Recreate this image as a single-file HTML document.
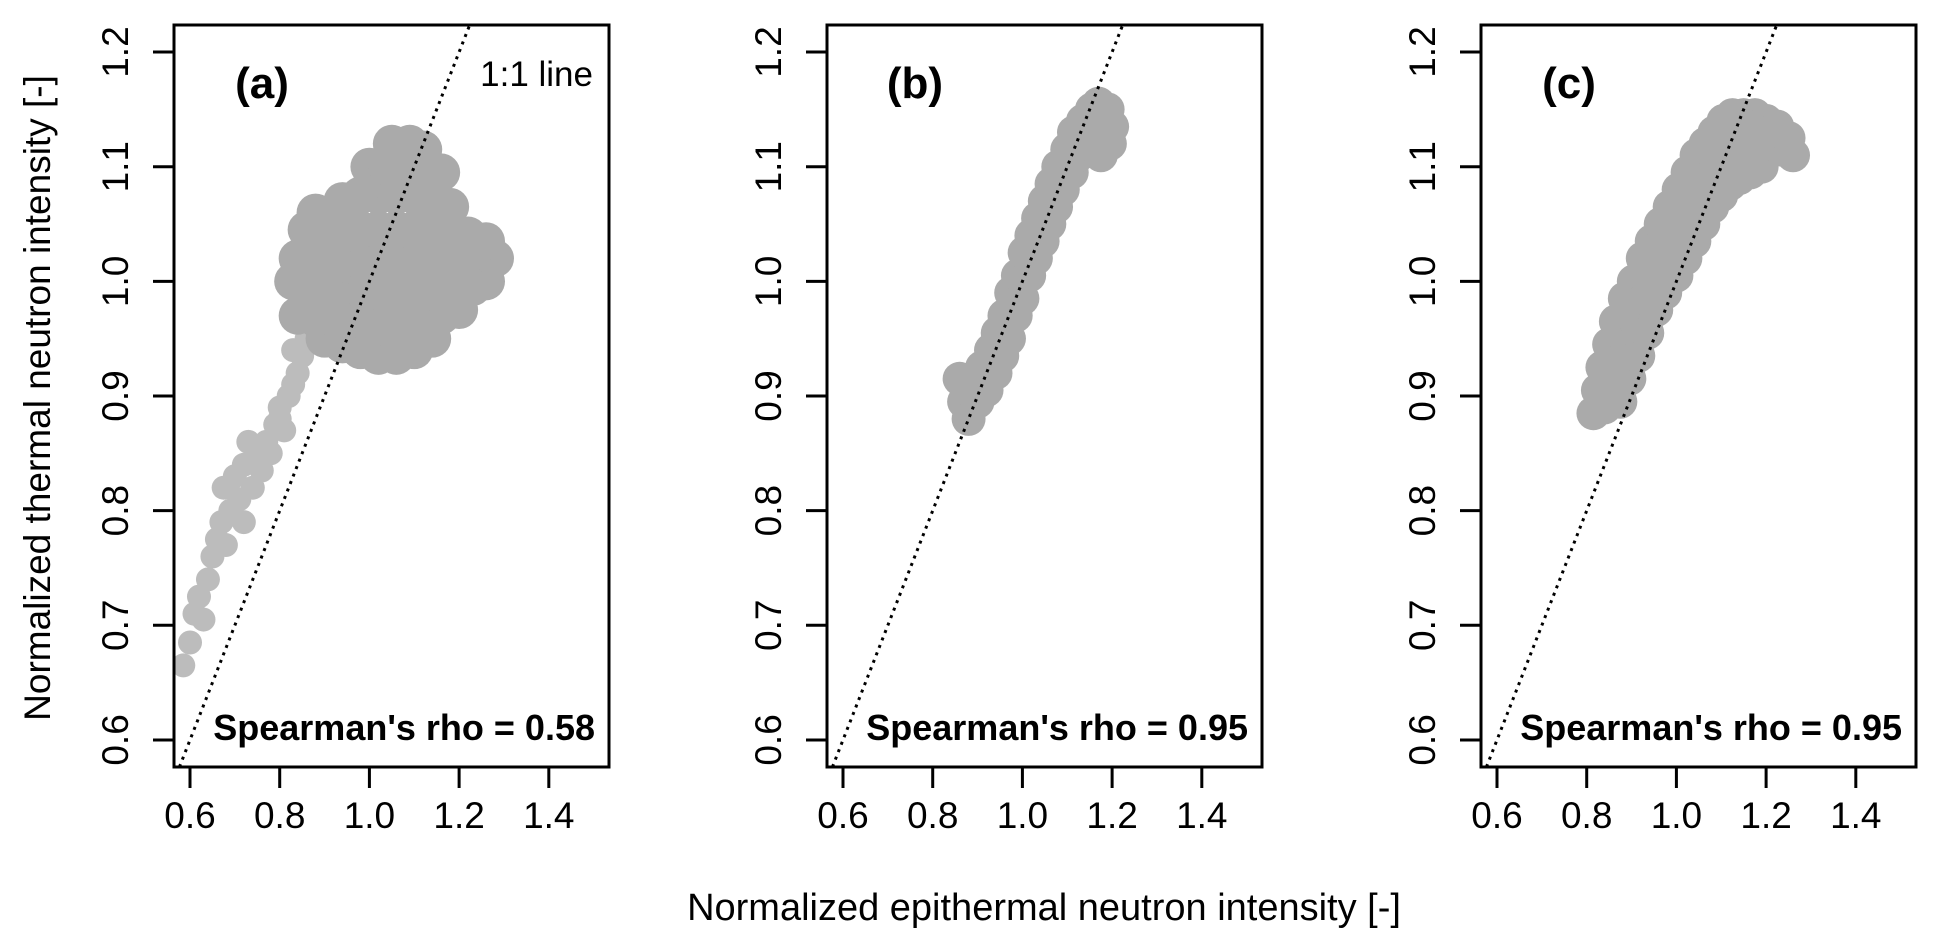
<!DOCTYPE html>
<html><head><meta charset="utf-8"><style>
body{margin:0;background:#fff}
svg{display:block;font-family:"Liberation Sans",Arial,sans-serif}
</style></head><body>
<svg id="chart" width="1936" height="951" viewBox="0 0 1936 951">
<text x="40" y="398" transform="rotate(-90 40 398)" text-anchor="middle" dominant-baseline="middle" font-size="37">Normalized thermal neutron intensity [-]</text>
<text x="1044" y="920" text-anchor="middle" font-size="38">Normalized epithermal neutron intensity [-]</text>
</svg>
<script>
const xTicks=[0.6,0.8,1.0,1.2,1.4];
const yTicks=[0.6,0.7,0.8,0.9,1.0,1.1,1.2];
const panelLabels=["(a)","(b)","(c)"];
const rhoValues=["0.58","0.95","0.95"];
const tailA=[
[0.585,0.665],[0.60,0.685],[0.61,0.71],[0.62,0.725],[0.63,0.705],[0.64,0.74],[0.65,0.76],[0.66,0.775],[0.67,0.79],[0.675,0.82],[0.69,0.80],[0.70,0.83],[0.71,0.81],[0.72,0.79],[0.72,0.84],[0.74,0.82],[0.75,0.85],[0.76,0.835],[0.77,0.86],[0.78,0.85],[0.79,0.875],[0.80,0.89],[0.81,0.87],[0.82,0.90],[0.83,0.91],[0.84,0.92],[0.85,0.935],[0.86,0.95],[0.80,0.88],[0.83,0.94],[0.73,0.86],[0.68,0.77]
];
const pointsA=[
[0.84,0.97],[0.83,1.00],[0.84,1.02],[0.86,1.045],[0.88,1.06],
[0.90,0.95],[0.94,0.945],[0.98,0.94],[1.02,0.935],[1.06,0.935],[1.10,0.94],[1.14,0.95],
[0.88,0.968],[0.92,0.968],[0.96,0.965],[1.00,0.962],[1.04,0.96],[1.08,0.962],[1.12,0.965],[1.16,0.97],[1.20,0.975],
[0.87,0.99],[0.91,0.99],[0.95,0.99],[0.99,0.99],[1.03,0.99],[1.07,0.99],[1.11,0.99],[1.15,0.99],[1.19,0.99],[1.23,0.995],[1.26,1.00],
[0.87,1.015],[0.91,1.015],[0.95,1.015],[0.99,1.015],[1.03,1.015],[1.07,1.015],[1.11,1.015],[1.15,1.015],[1.19,1.015],[1.23,1.015],[1.28,1.02],
[0.90,1.045],[0.94,1.045],[0.98,1.045],[1.02,1.045],[1.06,1.045],[1.10,1.045],[1.14,1.045],[1.18,1.045],[1.22,1.04],[1.26,1.035],
[0.94,1.07],[0.98,1.075],[1.02,1.075],[1.06,1.075],[1.10,1.075],[1.14,1.07],[1.18,1.065],
[1.00,1.10],[1.04,1.10],[1.08,1.105],[1.12,1.10],[1.16,1.095],
[1.05,1.12],[1.09,1.12],[1.12,1.115]
];
const pointsB=[
[0.86,0.915],[0.87,0.895],[0.88,0.88],[0.89,0.91],[0.90,0.895],[0.91,0.925],[0.92,0.905],[0.93,0.94],[0.94,0.92],[0.945,0.955],[0.955,0.935],[0.96,0.97],[0.97,0.95],[0.975,0.99],[0.985,0.97],[0.99,1.005],[1.00,0.985],[1.005,1.025],[1.015,1.005],[1.02,1.04],[1.03,1.02],[1.035,1.055],[1.045,1.035],[1.05,1.07],[1.06,1.05],[1.065,1.085],[1.075,1.065],[1.08,1.10],[1.09,1.08],[1.10,1.115],[1.11,1.095],[1.115,1.13],[1.125,1.11],[1.135,1.14],[1.145,1.12],[1.155,1.15],[1.16,1.13],[1.17,1.155],[1.175,1.11],[1.18,1.135],[1.19,1.15],[1.195,1.12],[1.20,1.135]
];
const pointsC=[
[0.815,0.885],[0.825,0.905],[0.835,0.925],[0.84,0.89],[0.85,0.945],[0.855,0.91],[0.865,0.965],[0.87,0.93],[0.875,0.895],[0.885,0.985],[0.89,0.95],[0.895,0.915],[0.905,1.00],[0.91,0.965],[0.915,0.935],[0.925,1.02],[0.93,0.985],[0.935,0.955],[0.945,1.035],[0.95,1.00],[0.955,0.975],[0.965,1.05],[0.97,1.015],[0.975,0.99],[0.985,1.065],[0.99,1.03],[1.00,1.005],[1.005,1.08],[1.01,1.045],[1.02,1.02],[1.025,1.095],[1.03,1.06],[1.04,1.035],[1.045,1.11],[1.05,1.075],[1.06,1.05],[1.065,1.12],[1.07,1.09],[1.08,1.065],[1.085,1.13],[1.09,1.10],[1.10,1.075],[1.105,1.14],[1.11,1.11],[1.12,1.085],[1.125,1.145],[1.13,1.115],[1.14,1.09],[1.15,1.145],[1.155,1.12],[1.165,1.095],[1.175,1.145],[1.18,1.12],[1.19,1.10],[1.20,1.14],[1.21,1.12],[1.225,1.135],[1.235,1.115],[1.25,1.125],[1.26,1.11]
];
const allPoints=[pointsA,pointsB,pointsC];
const radii=[19,17,17];
const NS="http://www.w3.org/2000/svg";
const svg=document.getElementById('chart');
const panelLefts=[174,827,1481];
const PW=435, TOP=25, BOT=767;
const XMIN=0.5643, XMAX=1.5342, YMIN=0.5764, YMAX=1.2236;
function mk(tag,attrs,parent){const e=document.createElementNS(NS,tag);for(const k in attrs)e.setAttribute(k,attrs[k]);(parent||svg).appendChild(e);return e;}
panelLefts.forEach((L,i)=>{
  const sx=v=>L+(v-XMIN)/(XMAX-XMIN)*PW;
  const sy=v=>BOT-(v-YMIN)/(YMAX-YMIN)*(BOT-TOP);
  const g=mk('g',{});
  
  
  const clipId='clip'+i;
  const cp=mk('clipPath',{id:clipId},g);
  mk('rect',{x:L,y:TOP,width:PW,height:BOT-TOP},cp);
  const pg=mk('g',{'clip-path':'url(#'+clipId+')'},g);
  
  
  if(i===0){
    tailA.forEach(p=>{
      const c=mk('circle',{cx:sx(p[0]),cy:sy(p[1]),r:12,fill:'#bcbcbc'},pg);
      
      
    });
  }
  allPoints[i].forEach(p=>{
    const c=mk('circle',{cx:sx(p[0]),cy:sy(p[1]),r:radii[i],fill:'#aaaaaa'},pg);
    
    
  });
  const ln=mk('line',{x1:sx(YMIN),y1:sy(YMIN),x2:sx(YMAX),y2:sy(YMAX),stroke:'#000','stroke-width':3,'stroke-dasharray':'3 5','clip-path':'url(#'+clipId+')'},g);
  
  
  const fr=mk('rect',{x:L,y:TOP,width:PW,height:BOT-TOP,fill:'none',stroke:'#000','stroke-width':3},g);
  
  
  xTicks.forEach(t=>{
    const x=sx(t);
    const tk=mk('line',{x1:x,y1:BOT,x2:x,y2:BOT+21,stroke:'#000','stroke-width':3},g);
    
    
    const tl=mk('text',{x:x,y:828,'text-anchor':'middle','font-size':37},g);
    tl.textContent=t.toFixed(1);
    
    
  });
  yTicks.forEach(t=>{
    const y=sy(t);
    const tk=mk('line',{x1:L-21,y1:y,x2:L,y2:y,stroke:'#000','stroke-width':3},g);
    
    
    const tx=L-46;
    const tl=mk('text',{x:tx,y:y,'text-anchor':'middle',transform:'rotate(-90 '+tx+' '+y+')','font-size':37},g);
    tl.textContent=t.toFixed(1);
    
    
  });
  const pl=mk('text',{x:L+88,y:98,'text-anchor':'middle','font-size':44,'font-weight':'bold'},g);
  pl.textContent=panelLabels[i];
  
  
  const rt=mk('text',{x:L+PW-14,y:740,'text-anchor':'end','font-size':36,'font-weight':'bold'},g);
  rt.textContent="Spearman's rho = "+rhoValues[i];
  
  
  if(i===0){
    const ll=mk('text',{x:L+PW-16,y:86,'text-anchor':'end','font-size':35},g);
    ll.textContent='1:1 line';
    
    
  }
});
</script>
</body></html>
